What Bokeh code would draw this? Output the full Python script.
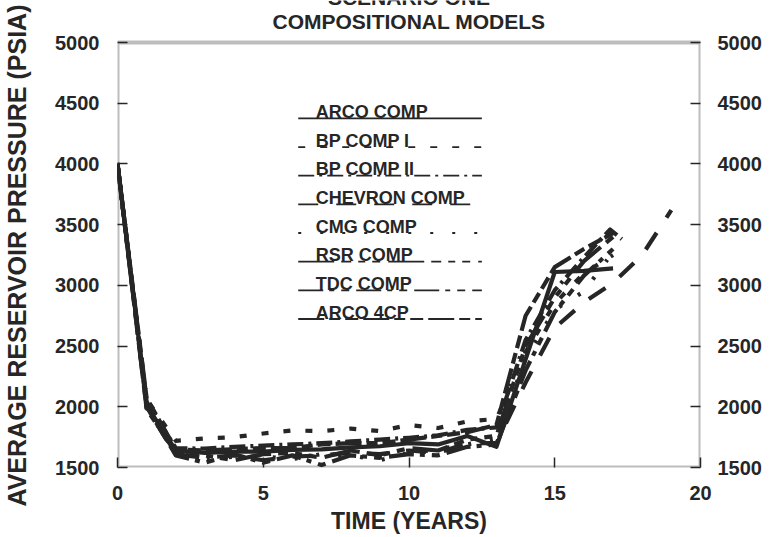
from bokeh.plotting import figure
from bokeh.models import Range1d, LinearAxis, FixedTicker, Label, BoxAnnotation, Title
from bokeh.embed import file_html
from bokeh.resources import INLINE
from bokeh.core.properties import value

FONT = "Liberation Sans"
INK = "#262626"

# ---- axes ----
x_ticks = [0, 5, 10, 15, 20]
y_ticks = [1500, 2000, 2500, 3000, 3500, 4000, 4500, 5000]
X_MIN, X_MAX = 0, 20
Y_MIN, Y_MAX = 1500, 5000

# ---- model runs: average reservoir pressure (psia) against time (years) ----
base_years = [0, 1, 2, 3, 4, 5, 6, 7, 8, 9, 10, 11, 12, 13]

arco_comp_t = base_years + [15, 16, 17]
arco_comp_p = [4010, 2010, 1640, 1620, 1630, 1630, 1645, 1650, 1665, 1675, 1700, 1690, 1760, 1670,
               3110, 3120, 3140]

bp_comp_1_t = base_years + [14, 15, 16, 17]
bp_comp_1_p = [4000, 2060, 1720, 1740, 1750, 1780, 1805, 1800, 1820, 1800, 1850, 1825, 1880, 1900,
               2450, 2850, 3100, 3250]

bp_comp_2_t = base_years + [14, 15, 16, 16.9, 17.3]
bp_comp_2_p = [4000, 2040, 1660, 1655, 1670, 1680, 1690, 1700, 1715, 1730, 1745, 1765, 1810, 1830,
               2550, 2960, 3230, 3460, 3380]

chevron_t = base_years + [14, 15, 16, 17, 18, 19]
chevron_p = [4000, 1990, 1610, 1580, 1600, 1560, 1590, 1600, 1620, 1610, 1640, 1620, 1700, 1700,
             2200, 2650, 2860, 3020, 3250, 3620]

cmg_t = base_years + [14, 15, 16, 16.8]
cmg_p = [4000, 2030, 1630, 1560, 1590, 1590, 1570, 1610, 1600, 1560, 1620, 1650, 1690, 1740,
         2400, 2800, 2950, 3210]

rsr_t = base_years + [14, 15, 16, 17]
rsr_p = [4000, 1980, 1620, 1600, 1560, 1610, 1620, 1580, 1640, 1600, 1660, 1640, 1730, 1760,
         2500, 2900, 3200, 3400]

tdc_t = base_years + [14, 15, 16, 17]
tdc_p = [4000, 2000, 1600, 1540, 1610, 1540, 1600, 1520, 1600, 1580, 1610, 1600, 1670, 1690,
         2300, 2780, 3080, 3300]

arco_4cp_t = base_years + [14, 15, 16, 17]
arco_4cp_p = [4000, 2070, 1650, 1640, 1650, 1660, 1660, 1690, 1700, 1700, 1730, 1760, 1790, 1850,
              2750, 3150, 3300, 3430]

names = ["ARCO COMP", "BP COMP I", "BP COMP II", "CHEVRON COMP",
         "CMG COMP", "RSR COMP", "TDC COMP", "ARCO 4CP"]
times = [arco_comp_t, bp_comp_1_t, bp_comp_2_t, chevron_t, cmg_t, rsr_t, tdc_t, arco_4cp_t]
pressures = [arco_comp_p, bp_comp_1_p, bp_comp_2_p, chevron_p, cmg_p, rsr_p, tdc_p, arco_4cp_p]
dashes = ["solid", "7 15", "16 5 3 5", "20 18", "3 19",
          "36 7 10 7 7 7 8 8", "25 6 5 7 8 7", "26 5 11 5 13 5"]

# The frame reaches the top of the canvas so the two heading lines can sit
# inside it; the visible box is drawn separately from 1500 to 5000 psia.
FRAME_H = 467                       # px, canvas top to the time axis
PX_PER_PSI = 425 / (Y_MAX - Y_MIN)  # box height in px over its psia span
Y_TOP = Y_MIN + FRAME_H / PX_PER_PSI


def psi_above_box(px):
    return Y_MAX + px / PX_PER_PSI


p = figure(width=772, height=537, title_location=None,
           x_range=Range1d(X_MIN, X_MAX), y_range=Range1d(Y_MIN, Y_TOP),
           output_backend="svg", toolbar_location=None,
           min_border_left=117, min_border_right=72,
           min_border_top=0, min_border_bottom=70)
p.grid.visible = False
p.background_fill_color = "white"
p.border_fill_color = "white"
p.outline_line_color = None


def style_axis(ax, standoff):
    ax.axis_line_color = None
    ax.major_tick_line_color = INK
    ax.major_tick_line_width = 1.5
    ax.major_tick_in = 10
    ax.major_tick_out = 0
    ax.minor_tick_in = 0
    ax.minor_tick_out = 0
    ax.major_label_standoff = standoff
    ax.major_label_text_font = FONT
    ax.major_label_text_font_style = "bold"
    ax.major_label_text_font_size = "20px"
    ax.major_label_text_color = INK
    ax.axis_label_text_font = FONT
    ax.axis_label_text_font_style = "bold"
    ax.axis_label_text_color = INK


xa = p.xaxis[0]
xa.ticker = FixedTicker(ticks=x_ticks)
style_axis(xa, 18)
xa.axis_label = "TIME (YEARS)"
xa.axis_label_text_font_size = "23px"
xa.axis_label_standoff = 5

ya = p.yaxis[0]
ya.ticker = FixedTicker(ticks=y_ticks)
style_axis(ya, 18)
# a blank axis caption only widens the tick panel, leaving a gap before the title
ya.axis_label = "\u00a0"
ya.axis_label_text_font_size = "11px"
ya.axis_label_standoff = 7

ra = LinearAxis(ticker=FixedTicker(ticks=y_ticks))
style_axis(ra, 17)
p.add_layout(ra, "right")

# rotated pressure caption, started just below the time axis so it is centred on the box
p.add_layout(Title(text="AVERAGE RESERVOIR PRESSURE (PSIA)", align="left",
                   offset=-39, standoff=0, text_font=FONT,
                   text_font_style="bold", text_font_size="25px",
                   text_color=INK), "left")

# plot box
p.add_layout(BoxAnnotation(left=X_MIN, right=X_MAX, bottom=Y_MIN, top=Y_MAX,
                           fill_alpha=0, line_color=INK, line_width=4))

# ---- model curves ----
for t, pr, d in zip(times, pressures, dashes):
    p.line(t, pr, line_color=INK, line_width=4.2, line_dash=d, line_join="round")

# ---- legend: caption above a sample of each line style ----
LEG_X0, LEG_X1, LEG_TEXT_X = 6.2, 12.5, 6.8
LEG_TOP, LEG_STEP, LEG_TEXT_RISE = 4375, 236, 52

for i, (name, d) in enumerate(zip(names, dashes)):
    ly = LEG_TOP - i * LEG_STEP
    p.line([LEG_X0, LEG_X1], [ly, ly], line_color=INK, line_width=1.8, line_dash=d)

p.text(x=[LEG_TEXT_X] * len(names),
       y=[LEG_TOP - i * LEG_STEP + LEG_TEXT_RISE for i in range(len(names))],
       text=names, text_font=value(FONT), text_font_style="bold",
       text_font_size="18px", text_color=INK, text_baseline="alphabetic")

# ---- two-line heading above the box ----
for txt, px in [("SCENARIO ONE", 45), ("COMPOSITIONAL MODELS", 21.5)]:
    p.add_layout(Label(x=(X_MIN + X_MAX) / 2, y=psi_above_box(px), text=txt,
                       text_align="center", text_baseline="alphabetic",
                       text_font=FONT, text_font_style="bold",
                       text_font_size="21px", text_color=INK))

open("out.html", "w").write(file_html(p, INLINE))
